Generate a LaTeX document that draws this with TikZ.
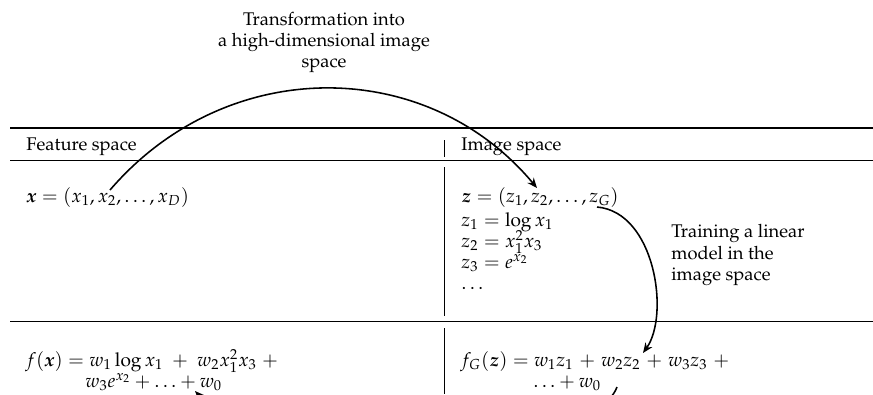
\documentclass[tikz,border=0pt]{standalone}
\usepackage[T1]{fontenc}
\usepackage{mathpazo}
\usepackage{bm}
\usetikzlibrary{arrows.meta}
\tikzset{
  txt/.style={anchor=base west, inner sep=0pt, font=\fontsize{10}{12}\selectfont},
  mtxt/.style={anchor=base west, inner sep=0pt, font=\fontsize{10.4}{12}\selectfont},
  ctxt/.style={anchor=base, inner sep=0pt, font=\fontsize{10}{12}\selectfont},
  rulethick/.style={line width=0.75pt},
  rulethin/.style={line width=0.5pt},
  vrule/.style={line width=0.45pt},
  conn/.style={line width=0.85pt, -{Stealth[length=5.5pt,width=4.5pt]}}
}
\newcommand{\wplus}{\mkern2mu+\mkern2mu}
\begin{document}
\begin{tikzpicture}[x=0.545pt,y=-0.545pt]
\useasboundingbox (0,0) rectangle (873,394);
\clip (0,0) rectangle (873,394);
% rules
\draw[rulethick] (10,128) -- (873,128);
\draw[rulethin] (10,160.5) -- (873,160.5);
\draw[rulethin] (10,321) -- (873,321);
\draw[vrule] (444.5,140) -- (444.5,157);
\draw[vrule] (444.5,167) -- (444.5,316);
\draw[vrule] (444.5,328) -- (444.5,394);
% top label
\node[ctxt] (t1) at (324,25) {Transformation into};
\node[ctxt] (t2) at (324,46) {a high-dimensional image};
\node[ctxt] (t3) at (324,67) {space};
% headers
\node[txt] (hf) at (26,150) {Feature space};
\node[txt] (hi) at (461,150) {Image space};
% content
\node[mtxt] (xv) at (26,202) {$\bm{x} = (x_1, x_2, \ldots, x_D)$};
\node[mtxt] (zv) at (461,202) {$\bm{z} = (z_1, z_2, \ldots, z_G)$};
\node[mtxt] (z1) at (461,226) {$z_1 = \log x_1$};
\node[mtxt] (z2) at (461,247) {$z_2 = x_1^2 x_3$};
\node[mtxt] (z3) at (461,268) {$z_3 = e^{x_2}$};
\node[mtxt] (zd) at (461,289) {$\ldots$};
% training label
\node[txt] (l1) at (671,237) {Training a linear};
\node[txt] (l2) at (671,259) {model in the};
\node[txt] (l3) at (671,280) {image space};
% bottom row
\node[mtxt] (fx1) at (25,366) {$f(\bm{x}) = w_1 \log x_1 \;+\; w_2 x_1^2 x_3 \;+$};
\node[mtxt] (fx2) at (85,387) {$w_3 e^{x_2} + \ldots + w_0$};
\node[mtxt] (fz1) at (460,366) {$f_G(\bm{z}) = w_1 z_1 \wplus w_2 z_2 \wplus w_3 z_3 \wplus{}$};
\node[mtxt] (fz2) at (533,387) {$\ldots + w_0$};
% connector anchors
\coordinate (a1s) at (110,190);
\coordinate (a1e) at (537,188);
\coordinate (a2s) at (597,207);
\coordinate (a2e) at (643,353);
\coordinate (a3s) at (617,387);
\coordinate (a3e) at (195,391);
\draw[conn] (a1s) .. controls (227,54) and (427,56) .. (a1e);
\draw[conn] (a2s) .. controls (655,212) and (670,315) .. (a2e);
\draw[conn] (a3s) .. controls (590,460) and (260,460) .. (a3e);
\end{tikzpicture}
\end{document}
